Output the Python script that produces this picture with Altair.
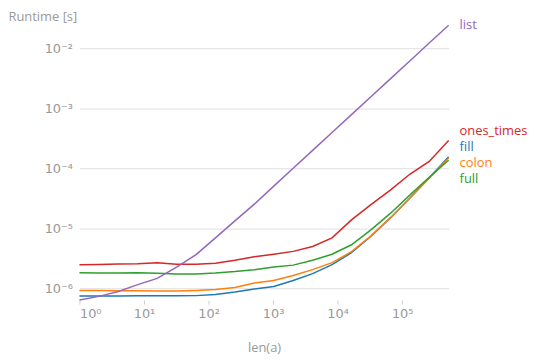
import altair as alt
import pandas as pd

# problem sizes n = 2^k
n_values = [2 ** k for k in range(20)]

kernels = ["fill", "colon", "full", "ones_times", "list"]
colors = ["#1f77b4", "#ff7f0e", "#2ca02c", "#d62728", "#9467bd"]

fill = [7.46e-7, 7.46e-7, 7.50e-7, 7.55e-7, 7.57e-7, 7.57e-7, 7.60e-7, 7.96e-7,
        8.75e-7, 9.80e-7, 1.08e-6, 1.36e-6, 1.77e-6, 2.49e-6, 3.94e-6, 7.40e-6,
        1.50e-5, 3.20e-5, 7.00e-5, 1.56e-4]
colon = [9.27e-7, 9.27e-7, 9.20e-7, 9.20e-7, 9.10e-7, 9.10e-7, 9.27e-7, 9.60e-7,
         1.04e-6, 1.23e-6, 1.36e-6, 1.64e-6, 2.06e-6, 2.69e-6, 4.10e-6, 7.53e-6,
         1.50e-5, 3.20e-5, 6.90e-5, 1.50e-4]
full = [1.82e-6, 1.81e-6, 1.81e-6, 1.82e-6, 1.79e-6, 1.75e-6, 1.75e-6, 1.81e-6,
        1.91e-6, 2.06e-6, 2.27e-6, 2.45e-6, 2.96e-6, 3.72e-6, 5.35e-6, 9.48e-6,
        1.78e-5, 3.60e-5, 7.14e-5, 1.37e-4]
ones_times = [2.49e-6, 2.52e-6, 2.56e-6, 2.59e-6, 2.69e-6, 2.54e-6, 2.54e-6, 2.64e-6,
              2.96e-6, 3.39e-6, 3.72e-6, 4.15e-6, 5.02e-6, 6.98e-6, 1.39e-5, 2.50e-5,
              4.35e-5, 8.00e-5, 1.31e-4, 2.93e-4]
lst = [6.40e-7, 7.38e-7, 8.90e-7, 1.16e-6, 1.47e-6, 2.27e-6, 3.66e-6, 6.98e-6,
       1.34e-5, 2.54e-5, 5.07e-5, 1.01e-4, 2.00e-4, 3.97e-4, 7.89e-4, 1.57e-3,
       3.11e-3, 6.18e-3, 1.23e-2, 2.44e-2]

# label positions (data units) at the right end of the lines
label_y = [2.25e-4, 1.22e-4, 6.67e-5, 4.14e-4, 2.5e-2]

y_ticks = [1e-6, 1e-5, 1e-4, 1e-3, 1e-2]
x_ticks = [1, 10, 100, 1000, 10000, 100000]

series = {"fill": fill, "colon": colon, "full": full, "ones_times": ones_times, "list": lst}
rows = []
for name in kernels:
    for n, t in zip(n_values, series[name]):
        rows.append({"kernel": name, "n": n, "runtime": t})
df = pd.DataFrame(rows)

labels_df = pd.DataFrame({"kernel": kernels, "n": [n_values[-1]] * len(kernels), "runtime": label_y})

FONT = "Open Sans"
TICKFONT = "DejaVu Sans"
GRAY = "#999999"
SUP = "['⁰','¹','²','³','⁴','⁵','⁶','⁷','⁸','⁹']"

xscale = alt.Scale(type="log", domain=[n_values[0], n_values[-1]], nice=False)
yscale = alt.Scale(type="log", domain=[min(lst), max(lst)], nice=False)
cscale = alt.Scale(domain=kernels, range=colors)

lines = alt.Chart(df).mark_line(strokeWidth=1.5, clip=False).encode(
    x=alt.X("n:Q", scale=xscale,
            axis=alt.Axis(values=x_ticks, grid=False, domain=False, ticks=True, tickSize=4,
                          tickColor="#cccccc", tickWidth=1, labelPadding=4,
                          labelExpr="'10' + " + SUP + "[round(log(datum.value)/LN10)]",
                          labelFontSize=13, labelColor=GRAY, labelFont=TICKFONT,
                          title="len(a)", titleFont=FONT, titleFontSize=13, titleColor=GRAY,
                          titleFontWeight="normal", titleY=52, titleBaseline="alphabetic")),
    y=alt.Y("runtime:Q", scale=yscale,
            axis=alt.Axis(values=y_ticks, grid=True, gridColor="#e6e6e6", gridWidth=1.3,
                          domain=False, ticks=False, labelPadding=7,
                          labelExpr="'10⁻' + " + SUP + "[round(-log(datum.value)/LN10)]",
                          labelFontSize=13, labelColor=GRAY, labelFont=TICKFONT,
                          title="Runtime [s]", titleFont=FONT, titleFontSize=13, titleColor=GRAY,
                          titleFontWeight="normal", titleAngle=0, titleAlign="left",
                          titleBaseline="alphabetic", titleX=-72, titleY=-5)),
    color=alt.Color("kernel:N", scale=cscale, legend=None),
    order=alt.Order("n:Q"),
)

texts = alt.Chart(labels_df).mark_text(align="left", baseline="middle", dx=11,
                                       font=FONT, fontSize=13, clip=False).encode(
    x=alt.X("n:Q", scale=xscale),
    y=alt.Y("runtime:Q", scale=yscale),
    text="kernel:N",
    color=alt.Color("kernel:N", scale=cscale, legend=None),
)

chart = alt.layer(lines, texts).properties(
    width=372, height=277,
    autosize=alt.AutoSizeParams(type="none"),
    padding={"left": 72, "top": 16, "right": 84, "bottom": 56},
).configure_view(stroke=None)

chart.save("out.html", embed_options={"renderer": "svg", "actions": False})
